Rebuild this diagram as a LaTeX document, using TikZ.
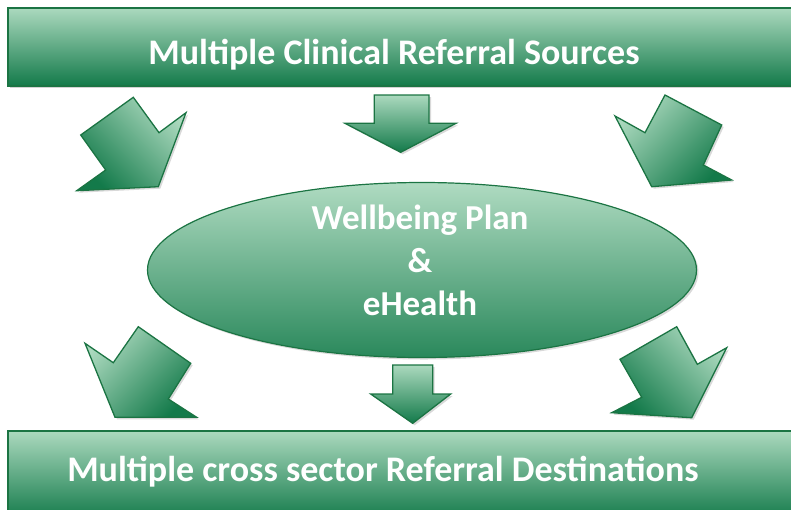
\documentclass[tikz,border=0pt]{standalone}
\usepackage{fontspec}
\setmainfont{Carlito}
\usetikzlibrary{shadows,shapes.geometric}
\definecolor{lightg}{HTML}{ABD9BE}
\definecolor{darkg}{HTML}{137A4A}
\definecolor{edgeg}{HTML}{1B7443}
\tikzset{
  barbox/.style={draw=edgeg, line width=1.2pt, top color=lightg, bottom color=darkg,
    drop shadow={opacity=0.35, shadow xshift=2pt, shadow yshift=-2pt}},
  bigarrow/.style={draw=edgeg, line width=1.3pt, line join=miter,
    drop shadow={opacity=0.3, shadow xshift=2pt, shadow yshift=-2pt}},
  bartext/.style={text=white, font=\bfseries\fontsize{36}{38}\selectfont},
}
\begin{document}
\begin{tikzpicture}[x=1pt,y=-1pt]
\useasboundingbox (0,0) rectangle (791,509);
\clip (0,0) rectangle (791,509);
% top bar
\path[barbox] (8,8) rectangle (800,86);
\node[bartext] (top) at (394,55) {Multiple Clinical Referral Sources};
% bottom bar
\path[barbox] (8,431) rectangle (800,520);
\node[bartext] (bottom) at (383,472) {Multiple cross sector Referral Destinations};
% ellipse
\node[ellipse, draw=edgeg, line width=1.2pt, top color=lightg!95!white, bottom color=darkg!85!lightg,
  minimum width=549pt, minimum height=175pt, inner sep=0pt,
  drop shadow={opacity=0.3, shadow xshift=2pt, shadow yshift=-2pt}] (plan) at (422,270) {};
\node[text=white, font=\bfseries\fontsize{35}{43}\selectfont, align=center] (plantext) at (420,260)
  {Wellbeing Plan\\\&\\eHealth};
% top arrows
\path[bigarrow, top color=lightg, bottom color=darkg, shading angle=-45]
  (133.3,97.3) -- (159,132.7) -- (186,112.7) -- (158.3,186.7) -- (76.7,190.7) -- (105.7,170) -- (80.7,135) -- cycle;
\path[bigarrow, top color=lightg, bottom color=darkg]
  (374.3,95) -- (429,95) -- (429,123.3) -- (456,123.3) -- (400.7,152.3) -- (345,123.3) -- (374.3,123.3) -- cycle;
\path[bigarrow, top color=lightg, bottom color=darkg, shading angle=45]
  (665,95) -- (721.7,125) -- (703.3,165) -- (731.7,180) -- (651.7,186.7) -- (615,116) -- (645,132.7) -- cycle;
% bottom arrows
\path[bigarrow, top color=lightg, bottom color=darkg, shading angle=45]
  (138.3,326.7) -- (190.7,363.3) -- (168.3,399) -- (196.7,417.3) -- (115,417.3) -- (85,343.3) -- (113.3,362.7) -- cycle;
\path[bigarrow, top color=lightg, bottom color=darkg]
  (392.7,365) -- (432.7,365) -- (432.7,394) -- (450.7,394) -- (412.7,423.3) -- (370.7,394) -- (392.7,394) -- cycle;
\path[bigarrow, top color=lightg, bottom color=darkg, shading angle=-45]
  (676.7,326.7) -- (697.3,364.3) -- (726.7,347.7) -- (691.7,417.7) -- (611.7,412.7) -- (641.7,397.3) -- (620,359.3) -- cycle;
\end{tikzpicture}
\end{document}
